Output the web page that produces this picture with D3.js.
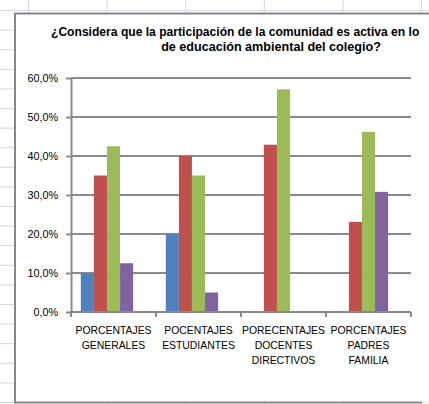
<!DOCTYPE html>
<html>
<head>
<meta charset="utf-8">
<script src="https://cdn.jsdelivr.net/npm/d3@7"></script>
<style>
  html, body { margin: 0; padding: 0; background: #fff; }
  svg { display: block; font-family: "Liberation Sans", Arial, sans-serif; }
</style>
</head>
<body>
<div id="chart-container"></div>
<script>
// category labels (one entry per line of the label)
const categories = [
    ["PORCENTAJES", "GENERALES"],
    ["POCENTAJES", "ESTUDIANTES"],
    ["PORECENTAJES", "DOCENTES", "DIRECTIVOS"],
    ["PORCENTAJES", "PADRES", "FAMILIA"]
];

// four answer series (fractions)
const serieAzul = [0.100, 0.200, 0, 0];
const serieRoja = [0.350, 0.400, 0.429, 0.231];
const serieVerde = [0.425, 0.350, 0.571, 0.462];
const serieMorada = [0.125, 0.050, 0, 0.308];

const yTicks = [0, 0.1, 0.2, 0.3, 0.4, 0.5, 0.6];
const titleLines = [
    "¿Considera que la participación de la comunidad es activa en lo",
    "de educación ambiental del colegio?"
];

const series = [serieAzul, serieRoja, serieVerde, serieMorada];
const colors = ["#4F81BD", "#C0504D", "#9BBB59", "#8064A2"];

const width = 429;
const height = 404;

const svg = d3.select("#chart-container")
    .append("svg")
    .attr("width", width)
    .attr("height", height);

// spreadsheet cells behind the chart object
const sheet = svg.append("g").attr("stroke", "#D0D7E5").attr("stroke-width", 1);
sheet.selectAll("line.row")
    .data(d3.range(0, 21))
    .join("line")
    .attr("class", "row")
    .attr("x1", 0).attr("x2", width)
    .attr("y1", d => 10.5 + d * 19.6).attr("y2", d => 10.5 + d * 19.6);
sheet.selectAll("line.col")
    .data(d3.range(0, 6))
    .join("line")
    .attr("class", "col")
    .attr("y1", 0).attr("y2", height)
    .attr("x1", d => 28.5 + d * 78.6).attr("x2", d => 28.5 + d * 78.6);

// chart object (runs off the right side of the window)
svg.append("rect")
    .attr("x", 15).attr("y", 13.5)
    .attr("width", width).attr("height", 389)
    .attr("fill", "#fff");
svg.append("path")
    .attr("d", `M422,402.5H15V13.5H${width + 2}`)
    .attr("fill", "none")
    .attr("stroke", "#868686")
    .attr("stroke-width", 2);

// title
svg.append("text")
    .attr("x", 51).attr("y", 36)
    .attr("font-size", 12.1).attr("font-weight", "bold")
    .attr("fill", "#000")
    .text(titleLines[0]);
svg.append("text")
    .attr("x", 271).attr("y", 51)
    .attr("text-anchor", "middle")
    .attr("font-size", 12.6).attr("font-weight", "bold")
    .attr("fill", "#000")
    .text(titleLines[1]);

const margin = { left: 71, right: 411, top: 78, bottom: 312 };

const x0 = d3.scaleBand()
    .domain(d3.range(categories.length))
    .range([margin.left, margin.right]);

// five slots per cluster: Excel keeps room for an empty fifth series
const x1 = d3.scaleBand()
    .domain(d3.range(5))
    .range([0, x0.bandwidth()])
    .paddingOuter(0.75);

const y = d3.scaleLinear()
    .domain([0, 0.6])
    .range([margin.bottom, margin.top]);

const fmt = d => (d * 100).toFixed(1).replace(".", ",") + "%";

// gridlines
svg.append("g")
    .selectAll("line")
    .data(yTicks.slice(1))
    .join("line")
    .attr("x1", margin.left).attr("x2", margin.right)
    .attr("y1", d => y(d)).attr("y2", d => y(d))
    .attr("stroke", "#8A8A8A")
    .attr("stroke-width", 2);

// bars
series.forEach((values, s) => {
    svg.append("g")
        .attr("fill", colors[s])
        .selectAll("rect")
        .data(values.map((v, i) => ({ v, i })).filter(d => d.v > 0))
        .join("rect")
        .attr("x", d => x0(d.i) + x1(s))
        .attr("y", d => y(d.v))
        .attr("width", x1.bandwidth())
        .attr("height", d => y(0) - y(d.v));
});

// y axis
const yAxis = g => g
    .attr("transform", `translate(${margin.left},0)`)
    .call(d3.axisLeft(y).tickValues(yTicks).tickFormat(fmt).tickSize(5).tickSizeOuter(0))
    .call(g => g.selectAll("path, line").attr("stroke", "#8A8A8A").attr("stroke-width", 2))
    .call(g => g.selectAll("text")
        .attr("x", -13)
        .attr("font-size", 10.8)
        .attr("fill", "#000")
        .attr("font-family", "Liberation Sans, Arial, sans-serif"));

svg.append("g").call(yAxis);

// x axis with ticks at cluster boundaries
const xEdges = d3.range(categories.length + 1).map(i => margin.left + i * x0.step());
const xAxis = svg.append("g");
xAxis.append("line")
    .attr("x1", margin.left - 1).attr("x2", margin.right)
    .attr("y1", y(0)).attr("y2", y(0))
    .attr("stroke", "#8A8A8A").attr("stroke-width", 2);
xAxis.selectAll("line.tick")
    .data(xEdges)
    .join("line")
    .attr("class", "tick")
    .attr("x1", d => d).attr("x2", d => d)
    .attr("y1", y(0)).attr("y2", y(0) + 5)
    .attr("stroke", "#8A8A8A").attr("stroke-width", 2);

const labels = svg.append("g")
    .attr("font-size", 10.4)
    .attr("fill", "#000")
    .attr("text-anchor", "middle");
categories.forEach((lines, i) => {
    labels.append("text")
        .attr("x", x0(i) + x0.bandwidth() / 2)
        .attr("y", 334)
        .selectAll("tspan")
        .data(lines)
        .join("tspan")
        .attr("x", x0(i) + x0.bandwidth() / 2)
        .attr("dy", (d, j) => j === 0 ? 0 : 15.2)
        .text(d => d);
});
</script>
</body>
</html>
